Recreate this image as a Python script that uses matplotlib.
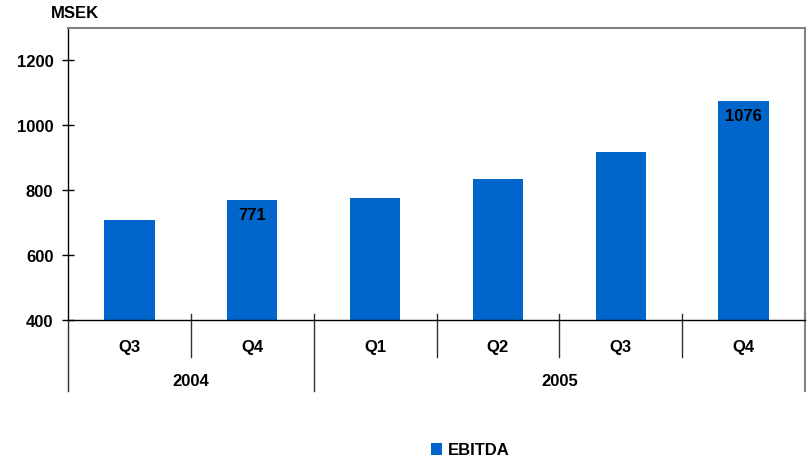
import matplotlib
matplotlib.use("Agg")
import matplotlib.pyplot as plt
import numpy as np

plt.rcParams['font.family'] = ['Liberation Sans', 'DejaVu Sans']
plt.rcParams['font.weight'] = 'bold'

quarters = ["Q3", "Q4", "Q1", "Q2", "Q3", "Q4"]
years = ["2004", "2005"]
year_groups = [[0, 1], [2, 3, 4, 5]]
ebitda = [707, 771, 776, 835, 918, 1076]
shown_labels = ["", "771", "", "", "", "1076"]
yticks = [400, 600, 800, 1000, 1200]

bar_color = "#0066CC"
FS = 12

fig = plt.figure(figsize=(8.1, 4.6), dpi=100)
ax = fig.add_axes([68/810, 1-321/460, (805-68)/810, (321-29)/460])

x = np.arange(len(quarters))
bars = ax.bar(x, ebitda, width=0.41, color=bar_color, label="EBITDA", zorder=2)

for xi, v, lab in zip(x, ebitda, shown_labels):
    if lab:
        ax.annotate(lab, (xi, v), xytext=(0, -5), textcoords="offset points",
                    ha="center", va="top", fontsize=FS, fontweight="bold", color="black")

ax.set_xlim(-0.5, len(quarters) - 0.5)
ax.set_ylim(400, 1300)
ax.set_yticks(yticks)
ax.set_yticklabels([str(t) for t in yticks], fontsize=FS, fontweight="bold")
ax.tick_params(axis="y", direction="inout", length=9, width=1, pad=6, colors="black")

ax.set_xticks(x)
ax.set_xticklabels(quarters, fontsize=FS, fontweight="bold")
ax.tick_params(axis="x", length=0, pad=13.5)

for s in ["left", "bottom"]:
    ax.spines[s].set_color("black")
    ax.spines[s].set_linewidth(1)
for s in ["top", "right"]:
    ax.spines[s].set_color("#808080")
    ax.spines[s].set_linewidth(1.5)

trans = ax.get_xaxis_transform()
# quarter dividers (inside groups)
for grp in year_groups:
    for a in grp[:-1]:
        ax.plot([a + 0.5, a + 0.5], [0.02, -0.127], color="#303030", lw=1,
                transform=trans, clip_on=False)
# year dividers
bounds = [year_groups[0][0] - 0.5] + [g[-1] + 0.5 for g in year_groups]
for i, b in enumerate(bounds):
    col = "#808080" if i == len(bounds) - 1 else "#303030"
    lw = 1.5 if i == len(bounds) - 1 else 1
    ax.plot([b, b], [0.0 if i == 0 else 0.02, -0.243], color=col, lw=lw,
            transform=trans, clip_on=False)

for yr, grp in zip(years, year_groups):
    ax.text(np.mean(grp), -61/292, yr, transform=trans, ha="center", va="center",
            fontsize=FS, fontweight="bold")

fig.text(51/810, 1-14/460, "MSEK", ha="left", va="center", fontsize=FS, fontweight="bold")

fig.legend(handles=[bars], labels=["EBITDA"], loc="center",
           bbox_to_anchor=(470/810, 1-451/460), frameon=False,
           handlelength=0.7, handleheight=0.7, handletextpad=0.3,
           prop={"size": FS, "weight": "bold"})

fig.savefig("out.png", dpi=100)
